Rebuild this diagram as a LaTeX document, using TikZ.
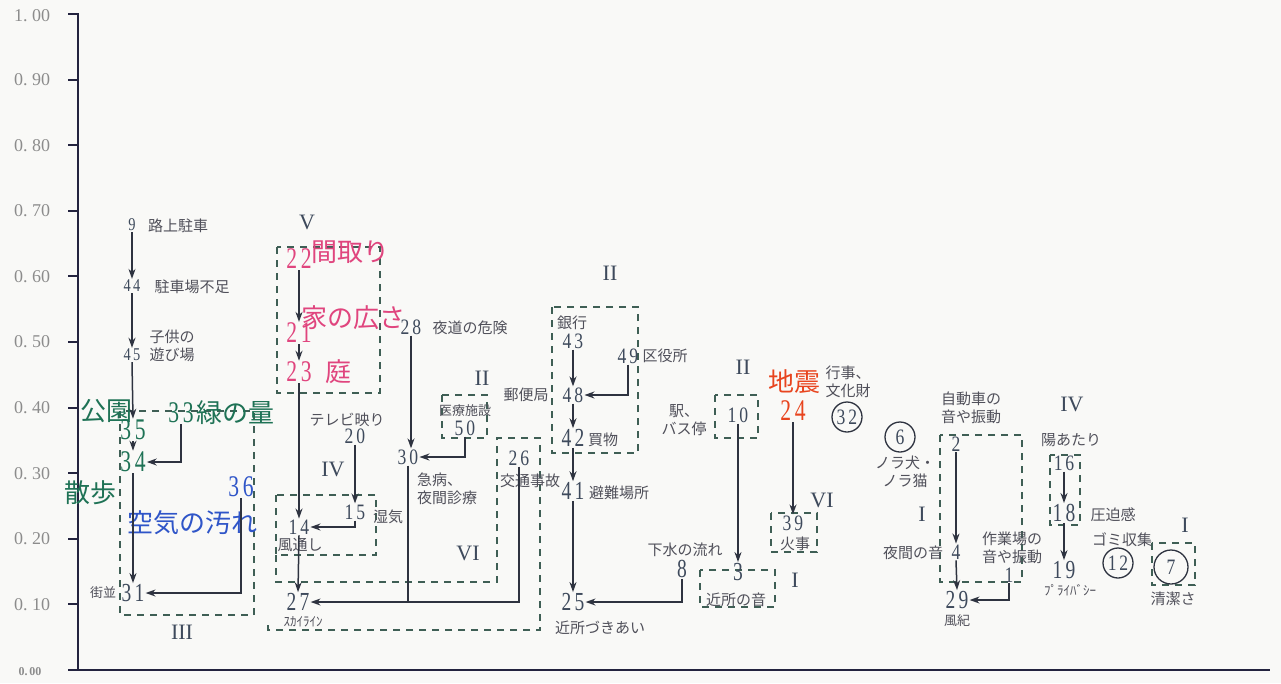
\documentclass[tikz,border=0pt]{standalone}
\usepackage{fontspec}
\usepackage{graphicx}
\setmainfont{Liberation Serif}
\newfontfamily\jp{Noto Sans CJK JP}
\usetikzlibrary{arrows.meta,calc}
\definecolor{axc}{HTML}{23233F}
\definecolor{tickc}{HTML}{8C8C8C}
\definecolor{numc}{HTML}{3E4A5C}
\definecolor{lblc}{HTML}{50505A}
\definecolor{boxc}{HTML}{3F5F55}
\definecolor{arc}{HTML}{2E3340}
\definecolor{grn}{HTML}{1E7255}
\definecolor{pnk}{HTML}{E0457E}
\definecolor{blu}{HTML}{2F55C8}
\definecolor{rd}{HTML}{E8441E}
\definecolor{bgc}{HTML}{F9F9F7}
\newcommand\NumT[3][0.8]{\scalebox{#1}[1]{\fontsize{#2}{#2}\selectfont #3}}
\begin{document}
\begin{tikzpicture}[x=1pt,y=-1pt,
  dbox/.style={draw=boxc, line width=1.5pt, dash pattern=on 7pt off 6pt},
  arr/.style={draw=arc, line width=1.5pt, -{Stealth[length=10pt,width=7pt]}},
  ln/.style={draw=arc, line width=1.5pt},
  lbl/.style={font=\jp\fontsize{15}{18}\selectfont, text=lblc, inner sep=0pt, align=center},
  slbl/.style={font=\jp\fontsize{13}{16}\selectfont, text=lblc, inner sep=0pt, align=center},
  num/.style={text=numc, inner sep=1pt},
  rom/.style={font=\fontsize{22}{22}\selectfont, text=numc, inner sep=0pt},
  circ/.style={circle, draw=arc, line width=1.3pt, minimum size=30pt, inner sep=0pt, text=numc},
  big/.style={font=\jp\fontsize{26}{28}\selectfont, inner sep=0pt},
  tick/.style={font=\fontsize{18}{18}\selectfont, text=tickc, inner sep=0pt}
]
\fill[bgc] (0,0) rectangle (1281,683);
\useasboundingbox (0,0) rectangle (1281,683);

% axes
\draw[axc, line width=2pt] (68,14) -- (78,14) -- (78,670);
\draw[axc, line width=2.2pt] (68,670) -- (1270,670);
\foreach \k/\t in {1/0.~10,2/0.~20,3/0.~30,4/0.~40,5/0.~50,6/0.~60,7/0.~70,8/0.~80,9/0.~90} {
  \draw[axc, line width=2pt] (68,670-65.6*\k) -- (78,670-65.6*\k);
  \node[tick] at (32,670-65.6*\k) {\t};
}
\node[tick] at (32,16) {1.~00};
\node[tick, font=\fontsize{12}{12}\selectfont\bfseries] at (30,672) {0.\,00};

% ---------- boxes ----------
\draw[dbox] (120,411) rectangle (254,615);
\draw[dbox] (277,247) rectangle (380,393);
\draw[dbox] (276,495) rectangle (376,555);
\draw[dbox] (276,555) -- (276,582) -- (497,582) -- (497,438) -- (540,438) -- (540,630) -- (268,630) -- (268,620);
\draw[dbox] (442,395) rectangle (487,438);
\draw[dbox] (552,307) rectangle (638,453);
\draw[dbox] (715,395) rectangle (758,438);
\draw[dbox] (700,570) rectangle (775,607);
\draw[dbox] (771,513) rectangle (817,552);
\draw[dbox] (940,435) rectangle (1022,582);
\draw[dbox] (1050,455) rectangle (1080,525);
\draw[dbox] (1152,543) rectangle (1195,585);

% ---------- column 1 ----------
\node[num] (n9) at (132,225) {\NumT{18}{9}};
\node[lbl] (l9) at (178,226) {路上駐車};
\node[num] (n44) at (132,286) {\NumT{18}{4\,4}};
\node[lbl] (l44) at (192,287) {駐車場不足};
\node[num] (n45) at (132,355) {\NumT{18}{4\,5}};
\node[lbl] (l45) at (172,346) {子供の\\遊び場};
\node[big, text=grn] (lkoen) at (106,411) {公園};
\node[num, text=grn] (n33) at (181,413) {\NumT[0.72]{30}{3\,3}};
\node[big, text=grn] (l33) at (235,413) {緑の量};
\node[num, text=grn] (n35) at (133,430) {\NumT[0.72]{30}{3\,5}};
\node[num, text=grn] (n34) at (133,462) {\NumT[0.72]{30}{3\,4}};
\node[big, text=grn] (lsanpo) at (90,493) {散歩};
\node[num, text=blu] (n36) at (241,487) {\NumT[0.72]{30}{3\,6}};
\node[big, text=blu] (lair) at (192,523) {空気の汚れ};
\node[num] (n31) at (133,593) {\NumT[0.75]{26}{3\,1}};
\node[slbl] (l31) at (103,593) {街並};
\node[rom] (r3) at (182,632) {III};

% ---------- column 2 ----------
\node[rom] (r5) at (307,222) {V};
\node[num, text=pnk] (n22) at (299,259) {\NumT[0.72]{30}{2\,2}};
\node[big, text=pnk] (l22) at (350,252) {間取り};
\node[big, text=pnk] (l21) at (353,318) {家の広さ};
\node[num, text=pnk] (n21) at (299,333) {\NumT[0.72]{30}{2\,1}};
\node[num, text=pnk] (n23) at (299,372) {\NumT[0.72]{30}{2\,3}};
\node[big, text=pnk] (l23) at (338,372) {庭};
\node[num] (n28) at (411,327) {\NumT{22}{2\,8}};
\node[lbl] (l28) at (470,328) {夜道の危険};
\node[lbl] (l20) at (347,420) {テレビ映り};
\node[num] (n20) at (355,436) {\NumT{22}{2\,0}};
\node[rom] (r4) at (333,469) {IV};
\node[num] (n15) at (355,512) {\NumT{22}{1\,5}};
\node[lbl] (l15) at (388,517) {湿気};
\node[num] (n14) at (299,527) {\NumT{22}{1\,4}};
\node[lbl] (l14) at (300,545) {風通し};
\node[num] (n27) at (298,602) {\NumT[0.75]{26}{2\,7}};
\node[slbl] (l27) at (303,622) {ｽｶｲﾗｲﾝ};
\node[num] (n30) at (408,457) {\NumT{22}{3\,0}};
\node[lbl, anchor=west, align=left] (l30) at (417,489) {急病、\\夜間診療};
\node[rom] (r2a) at (482,378) {II};
\node[slbl] (l50) at (465,411) {医療施設};
\node[num] (n50) at (465,428) {\NumT{22}{5\,0}};
\node[num] (n26) at (519,458) {\NumT{22}{2\,6}};
\node[lbl] (l26) at (530,481) {交通事故};
\node[rom] (r6a) at (468,553) {VI};

% ---------- column 3 ----------
\node[rom] (r2b) at (610,273) {II};
\node[lbl] (l43) at (572,323) {銀行};
\node[num] (n43) at (573,341) {\NumT{22}{4\,3}};
\node[num] (n49) at (628,356) {\NumT{22}{4\,9}};
\node[lbl] (l49) at (665,356) {区役所};
\node[lbl] (l48) at (526,395) {郵便局};
\node[num] (n48) at (573,395) {\NumT{22}{4\,8}};
\node[num] (n42) at (573,438) {\NumT[0.75]{26}{4\,2}};
\node[lbl] (l42) at (603,440) {買物};
\node[num] (n41) at (573,491) {\NumT[0.75]{26}{4\,1}};
\node[lbl] (l41) at (619,493) {避難場所};
\node[num] (n25) at (573,602) {\NumT[0.75]{26}{2\,5}};
\node[lbl] (l25) at (600,628) {近所づきあい};
\node[lbl] (l8) at (685,550) {下水の流れ};
\node[num] (n8) at (682,569) {\NumT[0.75]{26}{8}};

% ---------- column 4 ----------
\node[rom] (r2c) at (743,367) {II};
\node[num] (n10) at (738,415) {\NumT{22}{1\,0}};
\node[lbl] (l10) at (684,420) {駅、\\バス停};
\node[num] (n3) at (738,572) {\NumT[0.75]{26}{3}};
\node[lbl] (l3) at (736,600) {近所の音};
\node[rom] (r1a) at (795,580) {I};
\node[big, text=rd] (l24) at (794,382) {地震};
\node[num, text=rd] (n24) at (793,411) {\NumT[0.72]{30}{2\,4}};
\node[rom] (r6b) at (822,500) {VI};
\node[num] (n39) at (793,523) {\NumT{22}{3\,9}};
\node[lbl] (l39) at (795,544) {火事};
\node[lbl] (l32) at (848,382) {行事、\\文化財};
\node[circ] (c32) at (847,417) {\NumT{22}{3\,2}};
\node[circ] (c6) at (900,437) {\NumT{22}{6}};
\node[lbl] (l6) at (905,472) {ノラ犬・\\ノラ猫};
\node[rom] (r1b) at (922,514) {I};
\node[lbl] (l2) at (971,408) {自動車の\\音や振動};
\node[num] (n2) at (956,444) {\NumT{22}{2}};
\node[lbl] (l4) at (913,553) {夜間の音};
\node[num] (n4) at (956,552) {\NumT{22}{4}};
\node[lbl] (l1) at (1012,548) {作業場の\\音や振動};
\node[num] (n1) at (1009,575) {\NumT{22}{1}};
\node[num] (n29) at (957,600) {\NumT[0.75]{26}{2\,9}};
\node[slbl] (l29) at (957,621) {風紀};
\node[rom] (r4b) at (1072,404) {IV};
\node[lbl] (l16) at (1071,440) {陽あたり};
\node[num] (n16) at (1064,463) {\NumT{22}{1\,6}};
\node[num] (n18) at (1064,513) {\NumT[0.75]{26}{1\,8}};
\node[lbl] (l18) at (1113,515) {圧迫感};
\node[num] (n19) at (1064,570) {\NumT[0.75]{26}{1\,9}};
\node[slbl] (l19) at (1070,590) {ﾌﾟﾗｲﾊﾞｼｰ};
\node[lbl] (l12) at (1122,540) {ゴミ収集};
\node[circ] (c12) at (1118,563) {\NumT{22}{1\,2}};
\node[rom] (r1c) at (1185,525) {I};
\node[circ, minimum size=34pt] (c7) at (1171,567) {\NumT{22}{7}};
\node[lbl] (l7) at (1173,599) {清潔さ};

% ---------- connectors ----------
\draw[arr] (n9.south) -- (n44.north);
\draw[arr] (n44.south) -- (n45.north);
\draw[arr] (n45.south) -- (n35.north);
\draw[arr] (n35.south) -- (n34.north);
\draw[arr] (n33.south) |- (n34.east);
\draw[arr] (n34.south) -- (n31.north);
\draw[arr] (n36.south) |- (n31.east);
\draw[arr] (n22.south) -- (n21.north);
\draw[arr] (n21.south) -- (n23.north);
\draw[arr] (n23.south) -- (n14.north);
\draw[arr] (n20.south) -- (n15.north);
\draw[arr] (n15.south) |- (n14.east);
\draw[arr] (n14.south) -- (n27.north);
\draw[arr] (n28.south) -- (n28.south |- n30.north);
\draw[arr] (n50.south) |- (n30.east);
\draw[ln] (n30.south) -- (n30.south |- n27.east);
\draw[arr] (n26.south) |- (n27.east);
\draw[arr] (n43.south) -- (n48.north);
\draw[arr] (n49.south) |- (n48.east);
\draw[arr] (n48.south) -- (n42.north);
\draw[arr] (n42.south) -- (n41.north);
\draw[arr] (n41.south) -- (n25.north);
\draw[arr] (n8.south) |- (n25.east);
\draw[arr] (n10.south) -- (n3.north);
\draw[arr] (n24.south) -- (n39.north);
\draw[arr] (n2.south) -- (n4.north);
\draw[arr] (n4.south) -- (n29.north);
\draw[arr] (n1.south) |- (n29.east);
\draw[arr] (n16.south) -- (n18.north);
\draw[arr] (n18.south) -- (n19.north);
\end{tikzpicture}
\end{document}
